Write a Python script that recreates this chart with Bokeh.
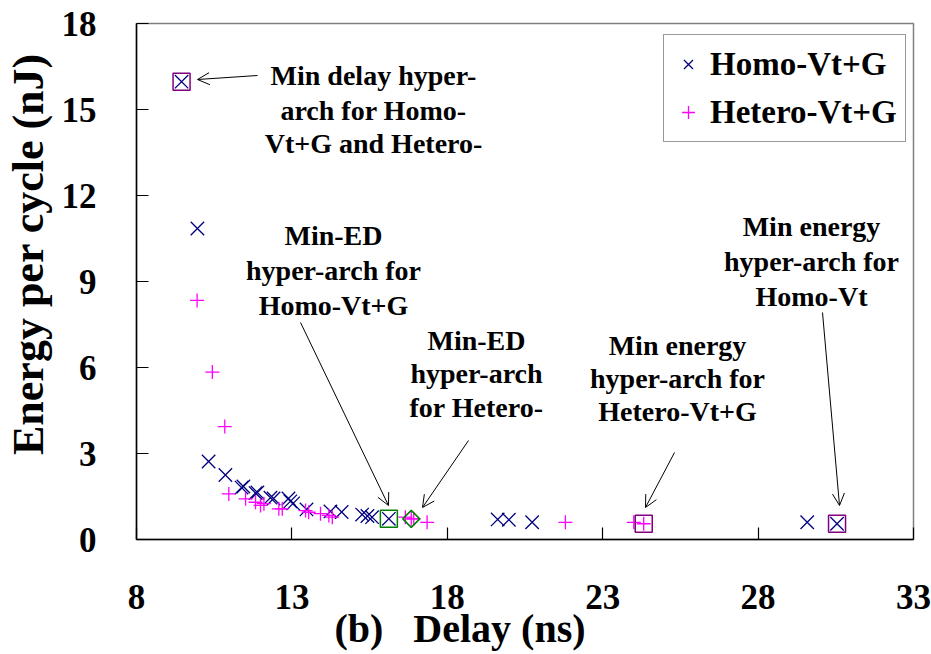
from bokeh.plotting import figure
from bokeh.models import Range1d, FixedTicker, Label, Arrow, OpenHead, Legend, LegendItem
from bokeh.embed import file_html
from bokeh.resources import INLINE

# Delay (ns) / energy per cycle (nJ) of the explored hyper-architectures
homo_delay = [9.45, 9.96, 10.32, 10.86, 11.38, 11.44, 11.83, 11.89, 12.31, 12.41,
              12.89, 12.95, 13.04, 13.47, 14.24, 14.60, 15.26, 15.43, 15.58, 16.12,
              19.62, 19.98, 20.73, 29.58, 30.54]
homo_energy = [15.97, 10.85, 2.72, 2.25, 1.81, 1.85, 1.62, 1.64, 1.46, 1.43,
               1.43, 1.33, 1.26, 1.05, 0.98, 0.96, 0.87, 0.82, 0.78, 0.72,
               0.70, 0.69, 0.60, 0.60, 0.55]
hetero_delay = [9.95, 10.44, 10.84, 10.97, 11.51, 11.83, 11.99, 12.10, 12.58, 12.69,
                13.44, 13.54, 13.92, 14.19, 14.30, 16.65, 16.84, 16.92, 17.35, 21.80,
                24.00, 24.32]
hetero_energy = [8.34, 5.84, 3.94, 1.59, 1.42, 1.30, 1.19, 1.25, 1.07, 1.07,
                 1.01, 0.95, 0.90, 0.84, 0.78, 0.78, 0.72, 0.72, 0.60, 0.60,
                 0.60, 0.55]

# indices of the notable design points
homo_min_delay = 0
homo_min_ed = 19
homo_min_energy = 24
hetero_min_ed = 16
hetero_min_energy = 21

x_ticks = [8, 13, 18, 23, 28, 33]
y_ticks = [0, 3, 6, 9, 12, 15, 18]

FONT = "Liberation Serif"
NB = "\u00a0"
W, H = 931, 654
LEFT, RIGHT, TOP, BOTTOM = 136, 18, 23, 115
X0, X1, Y0, Y1 = 8, 33, 0, 18

p = figure(width=W, height=H, output_backend="svg", toolbar_location=None,
           x_range=Range1d(X0, X1), y_range=Range1d(Y0, Y1),
           min_border_left=LEFT, min_border_right=RIGHT,
           min_border_top=TOP, min_border_bottom=BOTTOM,
           background_fill_color="white", border_fill_color="white")
p.grid.visible = False
p.outline_line_color = "#808080"
p.outline_line_width = 1.5

fw = W - LEFT - RIGHT
fh = H - TOP - BOTTOM


def dx(px):
    """canvas pixel column -> delay value"""
    return X0 + (px - LEFT) * (X1 - X0) / fw


def dy(py):
    """canvas pixel row -> energy value"""
    return Y0 + (TOP + fh - py) * (Y1 - Y0) / fh


for ax, ticks, standoff in ((p.xaxis[0], x_ticks, 45), (p.yaxis[0], y_ticks, 40)):
    ax.ticker = FixedTicker(ticks=ticks)
    ax.minor_tick_line_color = None
    ax.major_tick_in = 12
    ax.major_tick_out = 0
    ax.major_tick_line_color = "black"
    ax.major_tick_line_width = 1.2
    ax.axis_line_color = "black"
    ax.axis_line_width = 1.5
    ax.major_label_text_font = FONT
    ax.major_label_text_font_style = "bold"
    ax.major_label_text_font_size = "35px"
    ax.major_label_text_color = "black"
    ax.major_label_standoff = standoff
    ax.axis_label_text_font = FONT
    ax.axis_label_text_font_style = "bold"
    ax.axis_label_text_color = "black"

# axis titles; non-breaking spaces set the gap and shift the text off-centre
p.xaxis.axis_label = "(b)" + NB * 3 + "Delay (ns)" + NB * 13
p.xaxis.axis_label_text_font_size = "40px"
p.xaxis.axis_label_standoff = -6
p.yaxis.axis_label = NB * 5 + "Energy per cycle (nJ)"
p.yaxis.axis_label_text_font_size = "44px"
p.yaxis.axis_label_standoff = 6

homo = p.scatter(homo_delay, homo_energy, marker="x", size=19,
                 line_color="#000080", line_width=1.3)
hetero = p.scatter(hetero_delay, hetero_energy, marker="cross", size=14,
                   line_color="#FF00FF", line_width=1.3)

# highlighted points
purple = "#800080"
green = "#008000"
p.scatter([homo_delay[homo_min_delay], homo_delay[homo_min_energy], hetero_delay[hetero_min_energy]],
          [homo_energy[homo_min_delay], homo_energy[homo_min_energy], hetero_energy[hetero_min_energy]],
          marker="square", size=17, fill_color=None, line_color=purple, line_width=1.5)
p.scatter([homo_delay[homo_min_ed]], [homo_energy[homo_min_ed]],
          marker="square", size=17, fill_color=None, line_color=green, line_width=1.5)
p.scatter([hetero_delay[hetero_min_ed]], [hetero_energy[hetero_min_ed]],
          marker="square", size=12, angle=0.785398, fill_color=None,
          line_color=green, line_width=1.5)

# callout arrows (tail -> head, canvas pixels)
arrows = [((257, 75), (197, 79)),
          ((300, 322), (388, 505)),
          ((468, 440), (422, 507)),
          ((674, 452), (645, 507)),
          ((822, 312), (839, 505))]
for (tx, ty), (hx, hy) in arrows:
    p.add_layout(Arrow(x_start=dx(tx), y_start=dy(ty), x_end=dx(hx), y_end=dy(hy),
                       line_color="black", line_width=1,
                       end=OpenHead(size=12, line_color="black", line_width=1)))

callouts = [
    (373, [(75, "Min delay hyper-"), (110, "arch for Homo-"), (143, "Vt+G and Hetero-")]),
    (333, [(235, "Min-ED"), (270, "hyper-arch for"), (305, "Homo-Vt+G")]),
    (476, [(340, "Min-ED"), (373, "hyper-arch"), (407, "for Hetero-")]),
    (677, [(345, "Min energy"), (378, "hyper-arch for"), (411, "Hetero-Vt+G")]),
    (811, [(226, "Min energy"), (261, "hyper-arch for"), (296, "Homo-Vt")]),
]
for cx, lines in callouts:
    for cy, txt in lines:
        p.add_layout(Label(x=dx(cx), y=dy(cy), text=txt, text_font=FONT,
                           text_font_style="bold", text_font_size="28px",
                           text_align="center", text_baseline="middle",
                           text_color="black"))

legend = Legend(items=[LegendItem(label="Homo-Vt+G", renderers=[homo]),
                       LegendItem(label="Hetero-Vt+G", renderers=[hetero])],
                location=(663 - LEFT, TOP + fh - 142),
                label_text_font=FONT, label_text_font_style="bold",
                label_text_font_size="33px", label_text_color="black",
                glyph_width=32, glyph_height=42, label_height=42,
                label_standoff=6, spacing=6, padding=8, margin=0,
                border_line_color="#333333", border_line_width=1.5,
                background_fill_color="white", background_fill_alpha=1.0)
p.add_layout(legend)

open("out.html", "w").write(file_html(p, INLINE))
